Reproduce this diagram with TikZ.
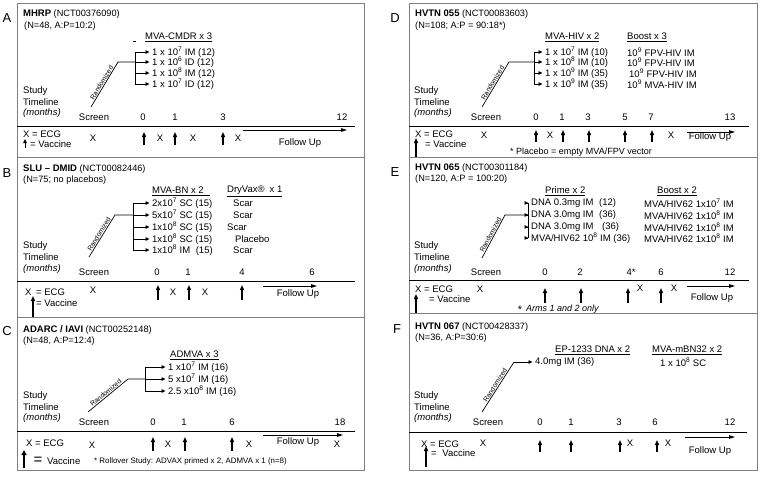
\documentclass[tikz,border=0pt]{standalone}
\usepackage{fontspec}
\setmainfont{Liberation Sans}
\usetikzlibrary{arrows.meta}
\definecolor{boxgray}{RGB}{128,128,128}
\newcommand{\vac}[4]{\coordinate (#1b) at (#2,#3);\coordinate (#1t) at (#2,#4);\draw[vacc] (#1b) -- (#1t);}
\newcommand{\armto}[2]{\draw[arm] (#2.west -| #1) -- ([xshift=-2.5pt]#2.west);}
\newcommand{\sx}[1]{\textsuperscript{#1}}
\begin{document}
\begin{tikzpicture}[x=1pt,y=-1pt,
 txt/.style={inner sep=0pt, anchor=west, font=\fontsize{9.5}{10}\selectfont},
 ctr/.style={inner sep=0pt, anchor=center, font=\fontsize{9.5}{10}\selectfont},
 ttl/.style={inner sep=0pt, anchor=west, font=\fontsize{9.2}{10}\selectfont},
 lbl/.style={inner sep=0pt, font=\fontsize{13}{14}\selectfont},
 rnd/.style={inner sep=0.6pt, font=\fontsize{6.8}{7}\selectfont},
 note/.style={inner sep=0pt, anchor=west, font=\fontsize{7.9}{8}\selectfont},
 panel/.style={draw=boxgray, line width=1pt},
 tl/.style={line width=0.8pt},
 brk/.style={line width=0.8pt},
 arm/.style={line width=0.8pt, -{Triangle[length=4pt,width=3.5pt]}},
 vacc/.style={line width=1.3pt, -{Triangle[length=5pt,width=4pt]}},
 follow/.style={line width=1pt, -{Triangle[length=6pt,width=3.5pt]}},
 rline/.style={line width=0.7pt},
]
\useasboundingbox (0,0) rectangle (760,477);
\fill[white] (0,0) rectangle (760,477);

% ================= Panel A =================
\coordinate (A-nw) at (17,3); \coordinate (A-se) at (364,157);
\draw[panel] (A-nw) rectangle (A-se);
\node[lbl] (A-lbl) at (7,18) {A};
\node[ttl] (A-title) at (23,14) {{\fontsize{9.5}{10}\selectfont\bfseries MHRP} (NCT00376090)};
\node[ttl] (A-n) at (24,26) {(N=48, A:P=10:2)};
\node[txt] (A-h1) at (145,37) {\underline{MVA-CMDR x 3}};
\coordinate (A-s1) at (133,41.5); \coordinate (A-s2) at (136,41.5);
\draw[line width=0.6pt] (A-s1) -- (A-s2);
\node[txt] (A-a1) at (152,52) {1 x 10\sx{7} IM (12)};
\node[txt] (A-a2) at (152,62) {1 x 10\sx{6} ID (12)};
\node[txt] (A-a3) at (152,73) {1 x 10\sx{8} IM (12)};
\node[txt] (A-a4) at (152,84) {1 x 10\sx{7} ID (12)};
\coordinate (A-bx) at (135,52);
\draw[brk] (A-a1.west -| A-bx) -- (A-a4.west -| A-bx);
\armto{A-bx}{A-a1}\armto{A-bx}{A-a2}\armto{A-bx}{A-a3}\armto{A-bx}{A-a4}
\coordinate (A-rt) at (118,62); \coordinate (A-rb) at (91,107);
\draw[rline] (A-rb) -- node[rnd, sloped, above] (A-rl) {Randomized} (A-rt) -- (A-a2.west -| A-bx);
\node[txt] (A-st1) at (23,91) {Study};
\node[txt] (A-st2) at (23,102) {Timeline};
\node[txt] (A-st3) at (23,113) {\itshape (months)};
\node[ctr] (A-scr) at (94,117) {Screen};
\node[ctr] (A-m0) at (143,117) {0};
\node[ctr] (A-m1) at (175,117) {1};
\node[ctr] (A-m3) at (223,117) {3};
\node[ctr] (A-m12) at (342,117) {12};
\coordinate (A-l1) at (17,126); \coordinate (A-l2) at (355,126);
\draw[tl] (A-l1) -- (A-l2);
\node[txt] (A-leg1) at (23,134) {X = ECG};
\node[txt] (A-leg2) at (30,144) {= Vaccine};
\coordinate (A-lgb) at (25,148); \coordinate (A-lgt) at (25,139);
\draw[vacc, line width=1pt, -{Triangle[length=4pt,width=3.5pt]}] (A-lgb) -- (A-lgt);
\node[ctr] (A-x0) at (93,138) {X};
\vac{A-v1}{144}{145}{132}\vac{A-v2}{175}{145}{132}\vac{A-v3}{223}{145}{132}
\node[ctr] (A-x1) at (160,138) {X};
\node[ctr] (A-x2) at (193,138) {X};
\node[ctr] (A-x3) at (238,138) {X};
\coordinate (A-f1) at (243,130); \coordinate (A-f2) at (347,130);
\draw[follow] (A-f1) -- (A-f2);
\node[ctr] (A-fu) at (300,143) {Follow Up};

% ================= Panel B =================
\coordinate (B-nw) at (17,157); \coordinate (B-se) at (364,317);
\draw[panel] (B-nw) rectangle (B-se);
\node[lbl] (B-lbl) at (7,173) {B};
\node[ttl] (B-title) at (23,169) {{\fontsize{9.5}{10}\selectfont\bfseries SLU – DMID} (NCT00082446)};
\node[ttl] (B-n) at (23,180) {(N=75; no placebos)};
\node[txt] (B-h1) at (152,191) {\underline{MVA-BN x 2\hspace{6pt}}};
\node[txt] (B-h2) at (227,191) {\underline{DryVax®\hspace{5pt}x 1}};
\node[txt] (B-a1) at (152,203) {2x10\sx{7} SC (15)};
\node[txt] (B-a2) at (152,215) {5x10\sx{7} SC (15)};
\node[txt] (B-a3) at (152,227) {1x10\sx{8} SC (15)};
\node[txt] (B-a4) at (152,239) {1x10\sx{8} SC (15)};
\node[txt] (B-a5) at (152,250) {1x10\sx{8} IM\hspace{3pt} (15)};
\node[txt] (B-c1) at (233,203) {Scar};
\node[txt] (B-c2) at (233,215) {Scar};
\node[txt] (B-c3) at (227,227) {Scar};
\node[txt] (B-c4) at (235,239) {Placebo};
\node[txt] (B-c5) at (233,250) {Scar};
\coordinate (B-bx) at (133,203);
\draw[brk] (B-a1.west -| B-bx) -- (B-a5.west -| B-bx);
\armto{B-bx}{B-a1}\armto{B-bx}{B-a2}\armto{B-bx}{B-a3}\armto{B-bx}{B-a4}\armto{B-bx}{B-a5}
\coordinate (B-rt) at (115,215); \coordinate (B-rb) at (89,257);
\draw[rline] (B-rb) -- node[rnd, sloped, above] (B-rl) {Randomized} (B-rt) -- (B-a2.west -| B-bx);
\node[txt] (B-st1) at (23,246) {Study};
\node[txt] (B-st2) at (23,257) {Timeline};
\node[txt] (B-st3) at (23,269) {\itshape (months)};
\node[ctr] (B-scr) at (94,272) {Screen};
\node[ctr] (B-m0) at (157,272) {0};
\node[ctr] (B-m1) at (188,272) {1};
\node[ctr] (B-m4) at (242,272) {4};
\node[ctr] (B-m6) at (312,272) {6};
\coordinate (B-l1) at (17,281); \coordinate (B-l2) at (355,281);
\draw[tl] (B-l1) -- (B-l2);
\node[txt] (B-leg1) at (25,292) {X\hspace{2pt} = ECG};
\node[txt] (B-leg2) at (36,303) {= Vaccine};
\coordinate (B-lgb) at (33,317); \coordinate (B-lgt) at (33,296);
\draw[vacc] (B-lgb) -- (B-lgt);
\node[ctr] (B-x0) at (93,290) {X};
\vac{B-v1}{158}{300}{285}\vac{B-v2}{189}{300}{285}\vac{B-v3}{242}{300}{285}
\node[ctr] (B-x1) at (173,292) {X};
\node[ctr] (B-x2) at (205,292) {X};
\coordinate (B-f1) at (263,286); \coordinate (B-f2) at (317,286);
\draw[follow] (B-f1) -- (B-f2);
\node[ctr] (B-fu) at (298,294) {Follow Up};

% ================= Panel C =================
\coordinate (C-nw) at (17,317); \coordinate (C-se) at (364,470);
\draw[panel] (C-nw) rectangle (C-se);
\node[lbl] (C-lbl) at (7,331) {C};
\node[ttl] (C-title) at (23,330) {{\fontsize{9.5}{10}\selectfont\bfseries ADARC / IAVI} (NCT00252148)};
\node[ttl] (C-n) at (23,341) {(N=48, A:P=12:4)};
\node[txt] (C-h1) at (170,355) {\underline{ADMVA x 3}};
\node[txt] (C-a1) at (168,367) {1 x10\sx{7} IM (16)};
\node[txt] (C-a2) at (168,379) {5 x10\sx{7} IM (16)};
\node[txt] (C-a3) at (168,391) {2.5 x10\sx{8} IM (16)};
\coordinate (C-bx) at (145,367);
\draw[brk] (C-a1.west -| C-bx) -- (C-a3.west -| C-bx);
\armto{C-bx}{C-a1}\armto{C-bx}{C-a2}\armto{C-bx}{C-a3}
\coordinate (C-rt) at (128,379); \coordinate (C-rb) at (88,412);
\draw[rline] (C-rb) -- node[rnd, sloped, above] (C-rl) {Randomized} (C-rt) -- (C-a2.west -| C-bx);
\node[txt] (C-st1) at (23,396) {Study};
\node[txt] (C-st2) at (23,407) {Timeline};
\node[txt] (C-st3) at (23,418) {\itshape (months)};
\node[ctr] (C-scr) at (94,422) {Screen};
\node[ctr] (C-m0) at (153,422) {0};
\node[ctr] (C-m1) at (184,422) {1};
\node[ctr] (C-m6) at (232,422) {6};
\node[ctr] (C-m18) at (340,422) {18};
\coordinate (C-l1) at (17,431); \coordinate (C-l2) at (355,431);
\draw[tl] (C-l1) -- (C-l2);
\node[txt] (C-leg1) at (26,443) {X = ECG};
\coordinate (C-lgb) at (24,468); \coordinate (C-lgt) at (24,450);
\draw[vacc, line width=1.6pt, -{Triangle[length=5pt,width=5pt]}] (C-lgb) -- (C-lgt);
\node[inner sep=0pt, font=\fontsize{15}{15}\selectfont] (C-eq) at (38,461) {=};
\node[txt] (C-leg2) at (47,461) {Vaccine};
\node[ctr] (C-x0) at (92,445) {X};
\vac{C-v1}{153}{451}{437}\vac{C-v2}{185}{451}{437}\vac{C-v3}{232}{451}{437}
\node[ctr] (C-x1) at (168,444) {X};
\node[ctr] (C-x2) at (249,444) {X};
\node[ctr] (C-x3) at (337,444) {X};
\coordinate (C-f1) at (263,435); \coordinate (C-f2) at (343,435);
\draw[follow] (C-f1) -- (C-f2);
\node[ctr] (C-fu) at (298,442) {Follow Up};
\node[note] (C-fn) at (94,461) {* Rollover Study: ADVAX primed x 2, ADMVA x 1 (n=8)};

% ================= Panel D =================
\coordinate (D-nw) at (409,3); \coordinate (D-se) at (757,157);
\draw[panel] (D-nw) rectangle (D-se);
\node[lbl] (D-lbl) at (395,18) {D};
\node[ttl] (D-title) at (415,14) {{\fontsize{9.5}{10}\selectfont\bfseries HVTN 055} (NCT00083603)};
\node[ttl] (D-n) at (415,26) {(N=108; A:P = 90:18*)};
\node[txt] (D-h1) at (545,37) {\underline{MVA-HIV x 2}};
\node[txt] (D-h2) at (627,37) {\underline{Boost x 3}};
\node[txt] (D-a1) at (545,52) {1 x 10\sx{7} IM (10)};
\node[txt] (D-a2) at (545,62) {1 x 10\sx{8} IM (10)};
\node[txt] (D-a3) at (545,73) {1 x 10\sx{9} IM (35)};
\node[txt] (D-a4) at (545,84) {1 x 10\sx{9} IM (35)};
\node[txt] (D-c1) at (627,52) {10\sx{9} FPV-HIV IM};
\node[txt] (D-c2) at (627,62) {10\sx{9} FPV-HIV IM};
\node[txt] (D-c3) at (629,73) {10\sx{9} FPV-HIV IM};
\node[txt] (D-c4) at (627,84) {10\sx{9} MVA-HIV IM};
\coordinate (D-bx) at (534,52);
\draw[brk] (D-a1.west -| D-bx) -- (D-a4.west -| D-bx);
\armto{D-bx}{D-a1}\armto{D-bx}{D-a2}\armto{D-bx}{D-a3}\armto{D-bx}{D-a4}
\coordinate (D-rt) at (509,62); \coordinate (D-rb) at (482,107);
\draw[rline] (D-rb) -- node[rnd, sloped, above] (D-rl) {Randomized} (D-rt) -- (D-a2.west -| D-bx);
\node[txt] (D-st1) at (414,91) {Study};
\node[txt] (D-st2) at (414,102) {Timeline};
\node[txt] (D-st3) at (414,113) {\itshape (months)};
\node[ctr] (D-scr) at (486,117) {Screen};
\node[ctr] (D-m0) at (536,117) {0};
\node[ctr] (D-m1) at (562,117) {1};
\node[ctr] (D-m3) at (588,117) {3};
\node[ctr] (D-m5) at (625,117) {5};
\node[ctr] (D-m7) at (651,117) {7};
\node[ctr] (D-m13) at (730,117) {13};
\coordinate (D-l1) at (409,126); \coordinate (D-l2) at (749,126);
\draw[tl] (D-l1) -- (D-l2);
\node[txt] (D-leg1) at (415,134) {X = ECG};
\node[txt] (D-leg2) at (425,144) {= Vaccine};
\coordinate (D-lgb) at (416,157); \coordinate (D-lgt) at (416,138);
\draw[vacc] (D-lgb) -- (D-lgt);
\node[ctr] (D-x0) at (484,135) {X};
\vac{D-v1}{536}{142}{130}\vac{D-v2}{563}{142}{130}\vac{D-v3}{589}{142}{130}\vac{D-v4}{625}{142}{130}\vac{D-v5}{652}{142}{130}
\node[ctr] (D-x1) at (550,135) {X};
\node[ctr] (D-x2) at (671,135) {X};
\coordinate (D-f1) at (687,132); \coordinate (D-f2) at (735,132);
\draw[follow] (D-f1) -- (D-f2);
\node[ctr] (D-fu) at (710,137) {Follow Up};
\node[note, font=\fontsize{9}{9}\selectfont] (D-fn) at (510,152) {* Placebo = empty MVA/FPV vector};

% ================= Panel E =================
\coordinate (E-nw) at (409,157); \coordinate (E-se) at (757,313);
\draw[panel] (E-nw) rectangle (E-se);
\node[lbl] (E-lbl) at (395,172) {E};
\node[ttl] (E-title) at (415,168) {{\fontsize{9.5}{10}\selectfont\bfseries HVTN 065} (NCT00301184)};
\node[ttl] (E-n) at (415,179) {(N=120, A:P = 100:20)};
\node[txt] (E-h1) at (545,191) {\underline{Prime x 2}};
\node[txt] (E-h2) at (657,191) {\underline{Boost x 2}};
\node[txt] (E-a1) at (531,203) {DNA 0.3mg IM\hspace{3pt} (12)};
\node[txt] (E-a2) at (531,215) {DNA 3.0mg IM\hspace{3pt} (36)};
\node[txt] (E-a3) at (531,227) {DNA 3.0mg IM\hspace{6pt} (36)};
\node[txt] (E-a4) at (531,238) {MVA/HIV62 10\sx{8} IM (36)};
\node[txt] (E-c1) at (644,203) {MVA/HIV62 1x10\sx{7} IM};
\node[txt] (E-c2) at (644,215) {MVA/HIV62 1x10\sx{8} IM};
\node[txt] (E-c3) at (644,227) {MVA/HIV62 1x10\sx{8} IM};
\node[txt] (E-c4) at (644,238) {MVA/HIV62 1x10\sx{8} IM};
\coordinate (E-bx) at (528,203);
\draw[brk] (E-a1.west -| E-bx) -- (E-a4.west -| E-bx);
\armto{E-bx}{E-a1}\armto{E-bx}{E-a2}\armto{E-bx}{E-a3}\armto{E-bx}{E-a4}
\coordinate (E-rt) at (505,215); \coordinate (E-rb) at (482,258);
\draw[rline] (E-rb) -- node[rnd, sloped, above] (E-rl) {Randomized} (E-rt) -- (E-a2.west -| E-bx);
\node[txt] (E-st1) at (414,246) {Study};
\node[txt] (E-st2) at (414,257) {Timeline};
\node[txt] (E-st3) at (414,269) {\itshape (months)};
\node[ctr] (E-scr) at (486,272) {Screen};
\node[ctr] (E-m0) at (545,272) {0};
\node[ctr] (E-m2) at (580,272) {2};
\node[ctr] (E-m4) at (631,272) {4*};
\node[ctr] (E-m6) at (661,272) {6};
\node[ctr] (E-m12) at (730,272) {12};
\coordinate (E-l1) at (409,280); \coordinate (E-l2) at (749,280);
\draw[tl] (E-l1) -- (E-l2);
\node[txt] (E-leg1) at (415,289) {X = ECG};
\node[txt] (E-leg2) at (429,299) {= Vaccine};
\coordinate (E-lgb) at (416,313); \coordinate (E-lgt) at (416,294);
\draw[vacc] (E-lgb) -- (E-lgt);
\node[ctr] (E-x0) at (480,289) {X};
\vac{E-v1}{545}{303}{288}\vac{E-v2}{581}{303}{288}\vac{E-v3}{628}{303}{288}\vac{E-v4}{661}{303}{288}
\node[ctr] (E-x1) at (640,288) {X};
\node[ctr] (E-x2) at (674,288) {X};
\coordinate (E-f1) at (687,286); \coordinate (E-f2) at (735,286);
\draw[follow] (E-f1) -- (E-f2);
\node[ctr] (E-fu) at (712,298) {Follow Up};
\node[inner sep=0pt, font=\fontsize{11}{11}\selectfont] (E-star) at (520,310) {*};
\node[note, font=\fontsize{9}{9}\selectfont\itshape] (E-fn) at (526,309) {Arms 1 and 2 only};

% ================= Panel F =================
\coordinate (F-nw) at (409,313); \coordinate (F-se) at (757,470);
\draw[panel] (F-nw) rectangle (F-se);
\node[lbl] (F-lbl) at (397,329) {F};
\node[ttl] (F-title) at (415,327) {{\fontsize{9.5}{10}\selectfont\bfseries HVTN 067} (NCT00428337)};
\node[ttl] (F-n) at (415,338) {(N=36, A:P=30:6)};
\node[txt] (F-h1) at (555,350) {\underline{EP-1233 DNA x 2}};
\node[txt] (F-h2) at (652,350) {\underline{MVA-mBN32 x 2}};
\node[txt] (F-a1) at (535,362) {4.0mg IM (36)};
\node[txt] (F-c1) at (660,362) {1 x 10\sx{8} SC};
\coordinate (F-rt) at (514,362); \coordinate (F-rb) at (482,412);
\draw[rline] (F-rb) -- node[rnd, sloped, above] (F-rl) {Randomized} (F-rt);
\draw[arm] (F-rt) -- ([xshift=-2.5pt]F-a1.west);
\node[txt] (F-st1) at (414,396) {Study};
\node[txt] (F-st2) at (414,407) {Timeline};
\node[txt] (F-st3) at (414,418) {\itshape (months)};
\node[ctr] (F-scr) at (488,422) {Screen};
\node[ctr] (F-m0) at (540,422) {0};
\node[ctr] (F-m1) at (571,422) {1};
\node[ctr] (F-m3) at (619,422) {3};
\node[ctr] (F-m6) at (655,422) {6};
\node[ctr] (F-m12) at (730,422) {12};
\coordinate (F-l1) at (409,432); \coordinate (F-l2) at (747,432);
\draw[tl] (F-l1) -- (F-l2);
\node[txt] (F-leg1) at (421,444) {X = ECG};
\node[txt] (F-leg2) at (431,453) {=\hspace{3pt} Vaccine};
\coordinate (F-lgb) at (426,467); \coordinate (F-lgt) at (426,446);
\draw[vacc] (F-lgb) -- (F-lgt);
\node[ctr] (F-x0) at (483,443) {X};
\vac{F-v1}{540}{452}{440}\vac{F-v2}{571}{452}{440}\vac{F-v3}{620}{452}{440}\vac{F-v4}{657}{452}{440}
\node[ctr] (F-x1) at (630,443) {X};
\node[ctr] (F-x2) at (668,443) {X};
\coordinate (F-f1) at (685,437); \coordinate (F-f2) at (735,437);
\draw[follow] (F-f1) -- (F-f2);
\node[ctr] (F-fu) at (710,451) {Follow Up};
\end{tikzpicture}
\end{document}
